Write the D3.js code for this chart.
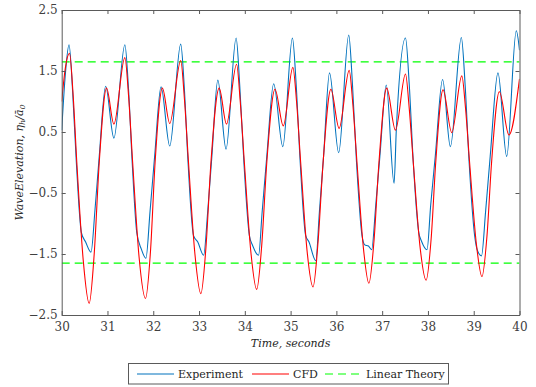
<!DOCTYPE html>
<html>
<head>
<meta charset="utf-8">
<script src="https://cdn.jsdelivr.net/npm/d3@7"></script>
<style>
	body { margin: 0; background: #fff; }
	.tick text { font-family: "DejaVu Serif", serif; font-size: 12px; fill: #404040; }
	.axis path, .axis line { stroke: #5a5a5a; }
</style>
</head>
<body>
<div id="chart-area"></div>
<script>

// Experiment (time, elevation)
let expTime = [30.00, 30.08, 30.16, 30.24, 30.32, 30.43, 30.52, 30.64, 30.73, 30.82, 30.96, 31.14,
	31.38, 31.46, 31.54, 31.64, 31.74, 31.84, 31.93, 32.03, 32.17, 32.36,
	32.60, 32.68, 32.76, 32.88, 32.97, 33.10, 33.19, 33.28, 33.41, 33.59,
	33.81, 33.89, 33.98, 34.10, 34.17, 34.30, 34.38, 34.48, 34.63, 34.83,
	35.04, 35.12, 35.21, 35.33, 35.40, 35.55, 35.63, 35.72, 35.85, 36.05,
	36.27, 36.35, 36.44, 36.56, 36.62, 36.70, 36.77, 36.86, 36.95, 37.09, 37.26, 37.31,
	37.51, 37.59, 37.68, 37.80, 37.86, 37.98, 38.06, 38.16, 38.32, 38.49,
	38.73, 38.81, 38.90, 39.02, 39.09, 39.17, 39.26, 39.36, 39.53, 39.72,
	39.93, 40.00];
let expValue = [0.53, 1.45, 1.93, 1.15, 0.00, -1.15, -1.30, -1.47, -0.75, 0.10, 1.25, 0.40,
	1.93, 1.20, 0.00, -1.15, -1.42, -1.57, -0.80, 0.10, 1.24, 0.27,
	1.94, 1.20, 0.00, -1.20, -1.30, -1.52, -0.80, 0.10, 1.35, 0.22,
	2.04, 1.25, 0.00, -1.20, -1.36, -1.52, -0.80, 0.10, 1.29, 0.26,
	2.04, 1.30, 0.00, -1.20, -1.30, -1.61, -0.80, 0.10, 1.47, 0.16,
	2.09, 1.30, 0.00, -1.20, -1.35, -1.37, -1.43, -0.70, 0.10, 1.27, -0.34, 0.55,
	2.04, 1.30, 0.00, -1.15, -1.29, -1.43, -0.70, 0.10, 1.36, 0.26,
	2.05, 1.30, 0.00, -1.20, -1.46, -1.53, -0.80, 0.10, 1.47, 0.10,
	2.16, 1.84];

// CFD (time, elevation)
let cfdTime = [30.00, 30.08, 30.17, 30.25, 30.33, 30.47, 30.60, 30.71, 30.82, 30.98, 31.14,
	31.38, 31.46, 31.55, 31.69, 31.83, 31.94, 32.04, 32.20, 32.36,
	32.60, 32.68, 32.77, 32.91, 33.04, 33.15, 33.26, 33.44, 33.60,
	33.82, 33.90, 33.99, 34.13, 34.26, 34.37, 34.48, 34.66, 34.84,
	35.05, 35.13, 35.22, 35.36, 35.49, 35.60, 35.71, 35.88, 36.06,
	36.28, 36.36, 36.45, 36.59, 36.71, 36.82, 36.93, 37.10, 37.29,
	37.51, 37.59, 37.68, 37.83, 37.96, 38.07, 38.17, 38.33, 38.52,
	38.74, 38.82, 38.91, 39.06, 39.18, 39.29, 39.39, 39.56, 39.77,
	40.00];
let cfdValue = [1.00, 1.55, 1.79, 1.10, 0.00, -1.60, -2.31, -1.50, 0.00, 1.22, 0.63,
	1.72, 1.10, 0.00, -1.55, -2.23, -1.45, 0.00, 1.22, 0.64,
	1.67, 1.05, 0.00, -1.50, -2.15, -1.40, 0.00, 1.22, 0.63,
	1.61, 1.00, 0.00, -1.45, -2.08, -1.35, 0.00, 1.20, 0.60,
	1.56, 1.00, 0.00, -1.45, -2.04, -1.30, 0.00, 1.20, 0.56,
	1.51, 0.95, 0.00, -1.40, -1.98, -1.30, 0.00, 1.22, 0.53,
	1.45, 0.90, 0.00, -1.40, -1.93, -1.25, 0.00, 1.19, 0.49,
	1.42, 0.90, 0.00, -1.35, -1.87, -1.20, 0.00, 1.16, 0.45,
	1.37];

// Linear theory amplitude (+/-)
let linearLevels = [1.65, -1.65];

// ticks
let xTicks = [30, 31, 32, 33, 34, 35, 36, 37, 38, 39, 40];
let yTicks = [2.5, 1.5, 0.5, -0.5, -1.5, -2.5];

let legendNames = ["Experiment", "CFD", "Linear Theory"];

let expData = expTime.map((t, i) => ({t: t, v: expValue[i]}));
let cfdData = cfdTime.map((t, i) => ({t: t, v: cfdValue[i]}));

let margin = {top: 10, right: 16.5, bottom: 72, left: 61.7};
let width = 536 - margin.left - margin.right,
	height = 387 - margin.top - margin.bottom;

let root = d3.select("#chart-area").append("svg")
	.attr("width", 536)
	.attr("height", 387);

let svg = root.append("g")
	.attr("transform", "translate(" + margin.left + "," + margin.top + ")");

let x = d3.scaleLinear().domain([30, 40]).range([0, width]);
let y = d3.scaleLinear().domain([-2.5, 2.5]).range([height, 0]);

svg.append("clipPath").attr("id", "clip")
	.append("rect").attr("width", width).attr("height", height);

let plot = svg.append("g").attr("clip-path", "url(#clip)");

// linear theory lines
plot.selectAll(".lin")
	.data(linearLevels)
	.enter()
	.append("line")
	.attr("x1", 0)
	.attr("x2", width)
	.attr("y1", d => y(d))
	.attr("y2", d => y(d))
	.attr("stroke", "#00ff00")
	.attr("stroke-width", 1.1)
	.attr("stroke-dasharray", "8,5");

let line = d3.line()
	.x(d => x(d.t))
	.y(d => y(d.v))
	.curve(d3.curveMonotoneX);

plot.append("path")
	.datum(expData)
	.attr("d", line)
	.attr("fill", "none")
	.attr("stroke", "#0072bd")
	.attr("stroke-width", 1.1);

plot.append("path")
	.datum(cfdData)
	.attr("d", line)
	.attr("fill", "none")
	.attr("stroke", "#ff0000")
	.attr("stroke-width", 1.1);

// axes (ticks inside, box)
svg.append("g")
	.attr("class", "axis")
	.attr("transform", "translate(0," + height + ")")
	.call(d3.axisBottom(x).tickValues(xTicks).tickSize(-4).tickSizeOuter(0).tickPadding(7));

svg.append("g")
	.attr("class", "axis")
	.call(d3.axisLeft(y).tickValues(yTicks).tickFormat(d3.format(".1f")).tickSize(-4).tickSizeOuter(0).tickPadding(4));

svg.append("g")
	.attr("class", "axis")
	.call(d3.axisTop(x).tickValues(xTicks).tickSize(-4).tickSizeOuter(0).tickFormat(""));

svg.append("g")
	.attr("class", "axis")
	.attr("transform", "translate(" + width + ",0)")
	.call(d3.axisRight(y).tickValues(yTicks).tickSize(-4).tickSizeOuter(0).tickFormat(""));

svg.selectAll(".axis .tick text").attr("dy", null);
svg.selectAll(".axis .tick text").each(function() {
	let t = d3.select(this);
	if (t.text() !== "") {
		if (t.attr("x") === null || t.attr("x") === "0") t.attr("dy", "0.71em");
		else t.attr("dy", "0.32em");
	}
});

// axis labels
root.append("text")
	.attr("x", margin.left + width / 2)
	.attr("y", 347)
	.attr("text-anchor", "middle")
	.style("font-family", "DejaVu Serif, serif")
	.style("font-style", "italic")
	.style("font-size", "11px")
	.attr("fill", "#262626")
	.text("Time, seconds");

let ylab = root.append("text")
	.attr("transform", "translate(23," + (margin.top + height / 2) + ") rotate(-90)")
	.attr("text-anchor", "middle")
	.style("font-family", "DejaVu Serif, serif")
	.style("font-style", "italic")
	.style("font-size", "11px")
	.attr("fill", "#262626");
ylab.append("tspan").text("WaveElevation, η");
ylab.append("tspan").attr("baseline-shift", "-25%").style("font-size", "8px").text("h");
ylab.append("tspan").text("/ā");
ylab.append("tspan").attr("baseline-shift", "-25%").style("font-size", "8px").text("0");

// legend
let legend = root.append("g");
legend.append("rect")
	.attr("x", 128.5).attr("y", 363.5)
	.attr("width", 320).attr("height", 20.5)
	.attr("fill", "#fff")
	.attr("stroke", "#5a5a5a")
	.attr("stroke-width", 1);

let legendColors = ["#0072bd", "#ff0000", "#00ff00"];
let legendDash = [null, null, "8,5"];
let legendX = [137, 252, 325];

legendNames.forEach((name, i) => {
	legend.append("line")
		.attr("x1", legendX[i]).attr("x2", legendX[i] + 37)
		.attr("y1", 374).attr("y2", 374)
		.attr("stroke", legendColors[i])
		.attr("stroke-width", 1.1)
		.attr("stroke-dasharray", legendDash[i]);
	legend.append("text")
		.attr("x", legendX[i] + 41)
		.attr("y", 378)
		.style("font-family", "DejaVu Serif, serif")
		.style("font-size", "11px")
		.attr("fill", "#262626")
		.text(name);
});

</script>
</body>
</html>
